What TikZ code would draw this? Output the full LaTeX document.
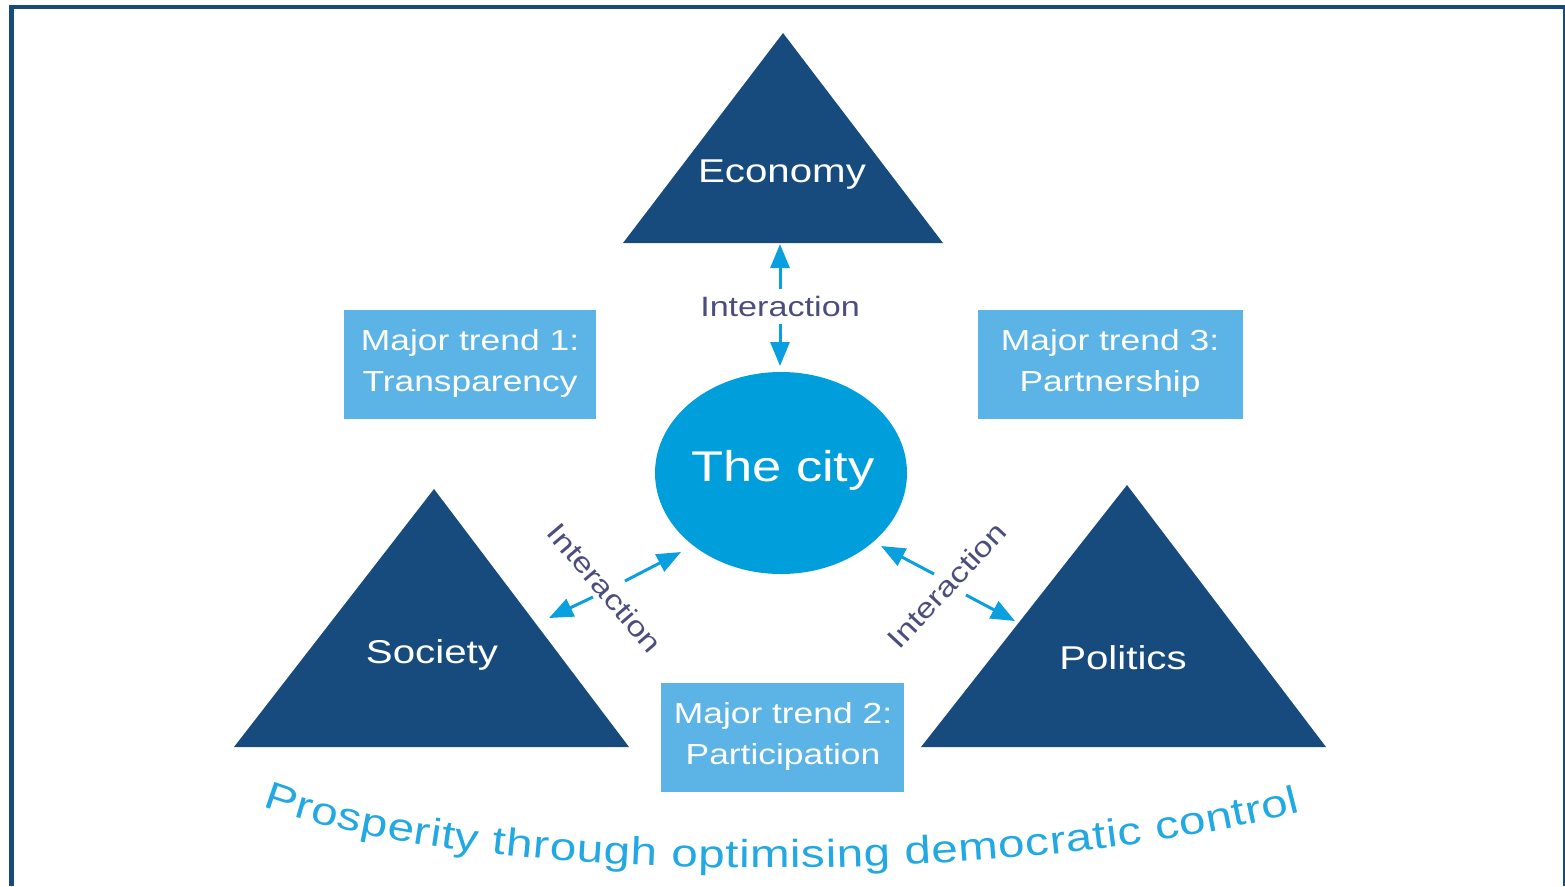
\documentclass[tikz,border=0pt]{standalone}
\usepackage{fontspec}
\setmainfont{Liberation Sans}
\newfontfamily\wf[FakeStretch=1.22]{Liberation Sans}
\usetikzlibrary{arrows.meta,shapes.geometric,decorations.text}
\definecolor{navy}{RGB}{23,75,125}
\definecolor{citycol}{RGB}{0,159,220}
\definecolor{boxcol}{RGB}{91,179,230}
\definecolor{arrcol}{RGB}{10,159,222}
\definecolor{capcol}{RGB}{34,168,226}
\definecolor{intercol}{RGB}{75,78,125}
\begin{document}
\begin{tikzpicture}[x=1pt,y=-1pt,
  tritext/.style={text=white,font=\wf\fontsize{33}{36}\selectfont},
  trendbox/.style={fill=boxcol,text=white,align=center,font=\wf\fontsize{29}{41}\selectfont,inner sep=0pt},
  arr/.style={draw=arrcol,line width=3pt,-{Triangle[length=24pt,width=19pt]}},
  intertext/.style={text=intercol,font=\wf\fontsize{28}{30}\selectfont,inner sep=0pt},
  tri/.style={fill=navy}]
\useasboundingbox (0,0) rectangle (1565,886);
% border
\fill[navy] (9,5) rectangle (1565,9);
\fill[navy] (9,5) rectangle (14,886);
\fill[navy] (1563,5) rectangle (1565,886);
% triangles
\fill[tri] (783,33) -- (943,243) -- (623,243) -- cycle;
\fill[tri] (434,489) -- (629,747) -- (234,747) -- cycle;
\fill[tri] (1127,485) -- (1326,747) -- (921,747) -- cycle;
\node[tritext] (econ) at (782,175) {Economy};
\node[tritext] (soc) at (432,655) {Society};
\node[tritext] (pol) at (1123,658) {Politics};
% city
\node[ellipse,fill=citycol,minimum width=252pt,minimum height=202pt,inner sep=0pt] (city) at (781,473) {};
\node[text=white,font=\wf\fontsize{43}{46}\selectfont] (citytext) at (783,470) {The city};
% boxes
\fill[boxcol] (344,310) rectangle (596,419);
\node[trendbox] (t1) at (470,363) {Major trend 1:\\Transparency};
\fill[boxcol] (978,310) rectangle (1243,419);
\node[trendbox] (t3) at (1110,363) {Major trend 3:\\Partnership};
\fill[boxcol] (661,683) rectangle (904,792);
\node[trendbox] (t2) at (783,736) {Major trend 2:\\Participation};
% interaction top
\node[intertext] (itop) at (780,306) {Interaction};
\coordinate (tu1) at (780,289); \coordinate (tu2) at (780,244);
\coordinate (td1) at (780,324); \coordinate (td2) at (780,366);
\draw[arr] (tu1) -- (tu2);
\draw[arr] (td1) -- (td2);
% interaction left
\node[intertext,rotate=-49.5] (ileft) at (605,588) {Interaction};
\coordinate (l1s) at (625,581); \coordinate (l1e) at (681,552);
\coordinate (l2s) at (593,597); \coordinate (l2e) at (549,618);
\draw[arr] (l1s) -- (l1e);
\draw[arr] (l2s) -- (l2e);
% interaction right
\node[intertext,rotate=47] (iright) at (947,585) {Interaction};
\coordinate (r1s) at (934,574); \coordinate (r1e) at (881,546);
\coordinate (r2s) at (966,595); \coordinate (r2e) at (1015,621);
\draw[arr] (r1s) -- (r1e);
\draw[arr] (r2s) -- (r2e);
% caption
\path[decorate,decoration={text along path,text color=capcol,
  text={|\wf\fontsize{39}{44}\selectfont|Prosperity through optimising democratic control},
  text align=fit to path}]
  (263,806) .. controls (470,885) and (1000,890) .. (1300,812);
\end{tikzpicture}
\end{document}
